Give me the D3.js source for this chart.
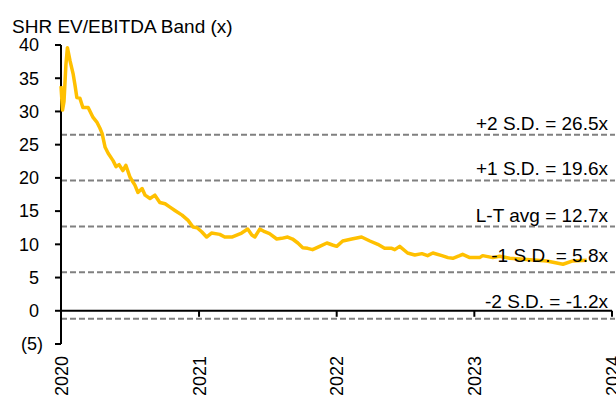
<!DOCTYPE html>
<html>
<head>
<meta charset="utf-8">
<script src="https://cdn.jsdelivr.net/npm/d3@7"></script>
<style>
  body { margin: 0; background: #fff; }
  svg { display: block; font-family: "Liberation Sans", Arial, sans-serif; }
</style>
</head>
<body>
<div id="chart"></div>
<script>
(function(){
    /* global d3 */
    // EV/EBITDA (x) over time
    var dates = [
        '2020-01-01','2020-01-05','2020-01-09','2020-01-14','2020-01-18','2020-01-25','2020-02-02','2020-02-07',
        '2020-02-12','2020-02-20','2020-02-28','2020-03-13','2020-03-26','2020-04-05','2020-04-13','2020-04-19',
        '2020-04-27','2020-05-05','2020-05-18','2020-05-26','2020-06-03','2020-06-13','2020-06-21','2020-07-02',
        '2020-07-15','2020-07-23','2020-08-03','2020-08-11','2020-08-24','2020-09-06','2020-09-19','2020-10-03',
        '2020-10-16','2020-10-29','2020-11-17','2020-12-03','2020-12-16','2020-12-27','2021-01-08','2021-01-21',
        '2021-02-03','2021-02-25','2021-03-10','2021-03-29','2021-04-11','2021-04-24','2021-05-10','2021-05-21',
        '2021-05-29','2021-06-11','2021-06-24','2021-07-07','2021-07-26','2021-08-08','2021-08-24','2021-09-06',
        '2021-09-20','2021-10-03','2021-10-16','2021-10-29','2021-11-17','2021-12-06','2021-12-21','2022-01-01',
        '2022-01-17','2022-02-10','2022-03-08','2022-03-30','2022-04-20','2022-05-08','2022-05-27','2022-06-04',
        '2022-06-17','2022-07-08','2022-07-27','2022-08-15','2022-08-30','2022-09-13','2022-10-07','2022-10-23',
        '2022-11-05','2022-11-23','2022-12-01','2022-12-20','2023-01-15','2023-01-23','2023-02-19','2023-03-09',
        '2023-04-05','2023-05-20','2023-07-12','2023-08-24','2023-09-19','2023-10-26'
    ];
    var multiples = [
        33.8, 30.2, 31.5, 37.0, 39.6, 37.6, 35.7, 34.0,
        32.1, 32.0, 30.6, 30.6, 29.1, 28.4, 27.5, 26.7,
        24.6, 23.7, 22.6, 21.7, 22.0, 21.1, 21.9, 20.1,
        18.9, 17.8, 18.4, 17.4, 16.9, 17.4, 16.3, 16.1,
        15.6, 15.1, 14.4, 13.6, 12.6, 12.5, 11.9, 11.1,
        11.7, 11.5, 11.1, 11.1, 11.4, 11.7, 12.3, 11.4,
        11.1, 12.3, 11.9, 11.6, 10.8, 10.9, 11.1, 10.8,
        10.2, 9.5, 9.4, 9.2, 9.7, 10.2, 9.9, 9.7,
        10.5, 10.8, 11.1, 10.5, 10.0, 9.4, 9.4, 9.2,
        9.7, 8.7, 8.4, 8.6, 8.3, 8.7, 8.3, 8.0,
        7.9, 8.3, 8.5, 8.0, 8.0, 8.3, 8.0, 8.2,
        7.9, 7.7, 7.5, 7.0, 7.5, 7.6
    ];

    var bandValues = [26.5, 19.6, 12.7, 5.8, -1.2];
    var bandLabels = ['+2 S.D. = 26.5x', '+1 S.D. = 19.6x', 'L-T avg = 12.7x', '-1 S.D. = 5.8x', '-2 S.D. = -1.2x'];
    var labelLift = [5, 6, 4, 10, 11]; // px above each line

    var yTicks = [40, 35, 30, 25, 20, 15, 10, 5, 0, -5];
    var xYears = [2020, 2021, 2022, 2023, 2024];

    var parse = d3.timeParse('%Y-%m-%d');
    var data = dates.map((d, i) => ({ date: parse(d), value: multiples[i] }));

    var W = 616, H = 406;
    var svg = d3.select('#chart').append('svg')
        .attr('width', W).attr('height', H);

    var x = d3.scaleTime()
        .domain([new Date(2020, 0, 1), new Date(2024, 0, 1)])
        .range([61, 612]);
    var y = d3.scaleLinear().domain([-5, 40]).range([344, 45]);

    // title
    svg.append('text')
        .attr('x', 12).attr('y', 33)
        .style('font-size', '19px')
        .text('SHR EV/EBITDA Band (x)');

    // band lines
    svg.selectAll('line.band')
        .data(bandValues).enter()
        .append('line')
        .attr('class', 'band')
        .attr('x1', 61).attr('x2', 615)
        .attr('y1', d => y(d)).attr('y2', d => y(d))
        .attr('stroke', '#808080')
        .attr('stroke-width', 2)
        .attr('stroke-dasharray', '6,3');

    // y axis
    svg.append('line')
        .attr('x1', 61).attr('x2', 61)
        .attr('y1', y(40)).attr('y2', y(-5))
        .attr('stroke', '#000').attr('stroke-width', 2);
    svg.selectAll('line.ytick')
        .data(yTicks).enter()
        .append('line')
        .attr('x1', 55).attr('x2', 61)
        .attr('y1', d => y(d)).attr('y2', d => y(d))
        .attr('stroke', '#000').attr('stroke-width', 2);
    svg.selectAll('text.ytick')
        .data(yTicks).enter()
        .append('text')
        .attr('x', d => d < 0 ? 43 : 39)
        .attr('y', d => y(d))
        .attr('dy', '0.35em')
        .attr('text-anchor', 'end')
        .style('font-size', '18px')
        .text(d => d < 0 ? '(' + Math.abs(d) + ')' : d);

    // x axis at zero
    svg.append('line')
        .attr('x1', 61).attr('x2', 612)
        .attr('y1', y(0)).attr('y2', y(0))
        .attr('stroke', '#000').attr('stroke-width', 2);
    svg.selectAll('line.xtick')
        .data(xYears).enter()
        .append('line')
        .attr('x1', d => x(new Date(d, 0, 1))).attr('x2', d => x(new Date(d, 0, 1)))
        .attr('y1', y(0)).attr('y2', y(0) + 6)
        .attr('stroke', '#000').attr('stroke-width', 2);
    svg.selectAll('text.xlab')
        .data(xYears).enter()
        .append('text')
        .attr('transform', d => 'translate(' + (x(new Date(d, 0, 1)) + 6.5) + ',356) rotate(-90)')
        .attr('text-anchor', 'end')
        .style('font-size', '18px')
        .text(d => d);

    // series
    var line = d3.line().x(d => x(d.date)).y(d => y(d.value));
    svg.append('path')
        .datum(data)
        .attr('d', line)
        .attr('fill', 'none')
        .attr('stroke', '#FFC000')
        .attr('stroke-width', 3.5)
        .attr('stroke-linejoin', 'round');

    // band labels on top
    svg.selectAll('text.band')
        .data(bandValues).enter()
        .append('text')
        .attr('x', 608)
        .attr('y', (d, i) => y(d) - labelLift[i])
        .attr('text-anchor', 'end')
        .style('font-size', '19px')
        .text((d, i) => bandLabels[i]);
})();
</script>
</body>
</html>
